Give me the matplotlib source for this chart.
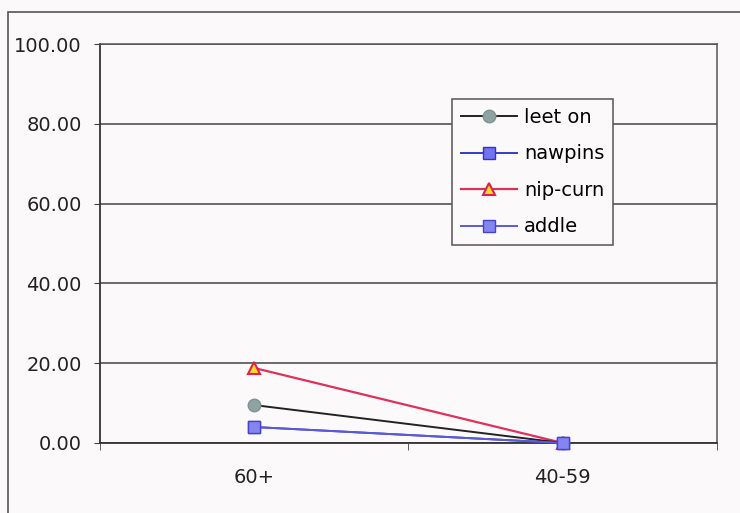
import numpy as np
import matplotlib.pyplot as plt
from matplotlib.patches import Rectangle

plt.rcParams['font.family'] = ['DejaVu Sans']

# age groups along the x axis
groups = ['60+', '40-59']

# series values per age group
leet_on = [9.5, 0.0]
nawpins = [4.0, 0.0]
nip_curn = [18.8, 0.0]
addle = [4.0, 0.0]

yticks = [0, 20, 40, 60, 80, 100]

fig = plt.figure(figsize=(7.4, 5.13), dpi=100, facecolor='#fcf9fa')

# outer chart frame
fig.patches.append(Rectangle((0.011, -0.1), 1.2, 1.0766, transform=fig.transFigure,
                             fill=False, edgecolor='#555555', linewidth=1.2))

ax = fig.add_axes([0.1351, 0.1365, 0.8338, 0.7777])
ax.set_facecolor('#fcf9fa')

x = np.arange(len(groups)) + 0.5

ax.plot(x, nip_curn, color='#e0305a', lw=1.6, marker='^', ms=9,
        mfc='#ffdd22', mec='#e02050', mew=1.5, label='nip-curn', zorder=3, clip_on=False)
ax.plot(x, leet_on, color='#222222', lw=1.4, marker='o', ms=9,
        mfc='#8fa3a3', mec='#7f9393', label='leet on', zorder=4, clip_on=False)
ax.plot(x, nawpins, color='#3a3ac8', lw=1.4, marker='s', ms=8.8,
        mfc='#7373ee', mec='#3333cc', label='nawpins', zorder=5, clip_on=False)
ax.plot(x, addle, color='#5a5ad8', lw=1.4, marker='s', ms=8.8,
        mfc='#8585f0', mec='#4444d0', label='addle', zorder=6, clip_on=False)

ax.set_xlim(0, 2)
ax.set_ylim(0, 100)
ax.set_yticks(yticks)
ax.set_yticklabels([f'{v:.2f}' for v in yticks], fontsize=14, color='#222222')
ax.yaxis.grid(True, color='#444444', lw=1.1)
ax.set_axisbelow(True)

ax.set_xticks(x)
ax.set_xticklabels(groups, fontsize=14, color='#222222')
ax.set_xticks([0, 1, 2], minor=True)
ax.tick_params(axis='x', which='major', length=0, pad=18)
ax.tick_params(axis='x', which='minor', length=5, direction='out', color='#444444')
ax.tick_params(axis='y', length=4.5, direction='out', color='#444444', pad=8.5)

for side in ['left', 'bottom']:
    ax.spines[side].set_color('#333333')
    ax.spines[side].set_linewidth(1.3)
for side in ['right', 'top']:
    ax.spines[side].set_color('#555555')
    ax.spines[side].set_linewidth(1.1)

# legend in the original series order
handles, labels = ax.get_legend_handles_labels()
order = ['leet on', 'nawpins', 'nip-curn', 'addle']
handles = [handles[labels.index(name)] for name in order]

leg = ax.legend(handles, order, loc='upper left', bbox_to_anchor=(0.5705, 0.862),
                fontsize=14, frameon=True, fancybox=False, edgecolor='#555555',
                handlelength=2.9, handletextpad=0.35, labelspacing=0.9,
                borderpad=0.45, borderaxespad=0)
leg.get_frame().set_linewidth(1.1)
leg.get_frame().set_facecolor('#fcf9fa')
leg.get_frame().set_alpha(1)

fig.savefig('out.png', dpi=100, facecolor=fig.get_facecolor())
